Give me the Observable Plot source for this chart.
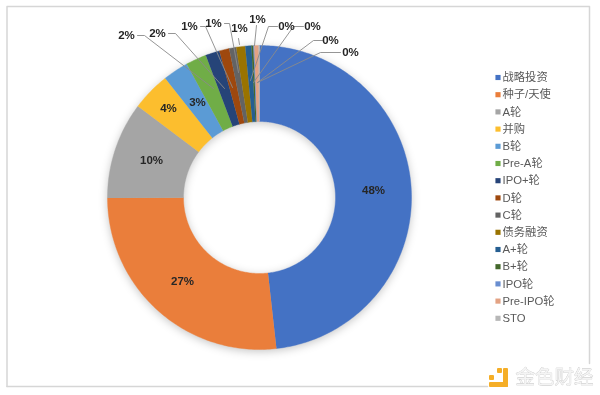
<!DOCTYPE html>
<html><head><meta charset="utf-8">
<script src="https://cdn.jsdelivr.net/npm/d3@7"></script>
<script src="https://cdn.jsdelivr.net/npm/@observablehq/plot@0.6"></script>
<style>html,body{margin:0;padding:0;background:#fff}svg{display:block;filter:blur(0.3px)}</style>
</head><body><div id="chart"></div>
<script>
const categories = ["战略投资","种子/天使","A轮","并购","B轮","Pre-A轮","IPO+轮","D轮","C轮","债务融资","A+轮","B+轮","IPO轮","Pre-IPO轮","STO"];
const shares = [48.2,26.7,10.3,4.1,2.7,2.2,1.5,1.05,0.75,0.95,0.65,0.2,0.1,0.45,0.1];
const valueLabels = ["48%","27%","10%","4%","3%","2%","2%","1%","1%","1%","1%","0%","0%","0%","0%"];
const colors = ["#4472c4","#ea7e3b","#a5a5a5","#fcbe2e","#5b9bd5","#70ad47","#264478","#9e480e","#636363","#997300","#255e91","#43682b","#698ed0","#e3a283","#b7b7b7"];

// layout (page pixels)
const cx = 259, cy = 197, rOuter = 152, rInner = 76;
const labelAt = [[373,190],[182,281],[151,160],[168,108],[197,102],[126,35],[157,33],[189,26],[213,23],[239,28],[257,19],[286,26],[312,26],[330,40],[350,52]];
const leaders = [
  {i:5,p:[[137,35],[144,35],[213,88]]},
  {i:6,p:[[168,33],[175,33],[224,88]]},
  {i:7,p:[[200,26],[205,26],[232,87]]},
  {i:8,p:[[224,23],[229,23],[238,72]]},
  {i:9,p:[[238,38],[239,44]]},
  {i:10,p:[[256,25],[254,45]]},
  {i:11,p:[[277,26],[268,26],[250,80]]},
  {i:12,p:[[303,26],[293,26],[253,82]]},
  {i:13,p:[[322,40],[313,40],[257,82]]},
  {i:14,p:[[340,52],[320,52],[257,82]]}
].flatMap(l => l.p.map(([x,y]) => ({i:l.i,x,y})));

const arcs = d3.pie().sort(null).value(d => d)(shares);
const slices = arcs.flatMap((a,i) => {
  const n = Math.max(2, Math.ceil((a.endAngle-a.startAngle)/0.015));
  const ang = d3.range(n+1).map(k => a.startAngle + (a.endAngle-a.startAngle)*k/n);
  const pt = (t,r) => ({name:categories[i], x:cx+r*Math.sin(t), y:cy-r*Math.cos(t)});
  return [...ang.map(t=>pt(t,rOuter)), ...ang.slice().reverse().map(t=>pt(t,rInner))];
});
const labels = valueLabels.map((text,i)=>({text,x:labelAt[i][0],y:labelAt[i][1]}));
const legend = categories.map((name,i)=>({name,row:i}));
const legendY = d => 77 + d.row*17.2;

const font = '"Liberation Sans","Noto Sans CJK SC",sans-serif';
const frameColor = "#d6d6d6";
const plot = Plot.plot({
  width:600, height:395, margin:0,
  style:{background:"#fff",fontFamily:font},
  x:{domain:[0,600],range:[0,600],axis:null},
  y:{domain:[0,395],range:[0,395],axis:null},
  color:{domain:categories,range:colors},
  marks:[
    Plot.line([[6.5,386],[6.5,6],[589,6],[589,363]].map(([x,y])=>({x,y})),{x:"x",y:"y",stroke:frameColor,strokeWidth:1.5}),
    Plot.line([{x:6.5,y:386},{x:487,y:386}],{x:"x",y:"y",stroke:frameColor,strokeWidth:1.5}),
    Plot.line(slices,{x:"x",y:"y",z:"name",fill:"name",stroke:"name",strokeWidth:0.4,curve:"linear"}),
    Plot.line(leaders,{x:"x",y:"y",z:"i",stroke:"#8a8a8a",strokeWidth:0.9,curve:"linear"}),
    Plot.text(labels,{x:"x",y:"y",text:"text",fontSize:11.5,fontWeight:"bold",fill:"#262626"}),
    Plot.dot(legend,{x:()=>497.5,y:legendY,fill:"name",symbol:"square",r:2.9}),
    Plot.text(legend,{x:()=>502,y:legendY,text:"name",textAnchor:"start",fontSize:11.3,fill:"#595959"}),
    // watermark
    Plot.rect([{x1:503,x2:508,y1:368,y2:387},{x1:489,x2:508,y1:382,y2:387},{x1:497,x2:502,y1:368,y2:373},{x1:489,x2:494,y1:375,y2:380}],{x1:"x1",x2:"x2",y1:"y1",y2:"y2",fill:"#f5ae27",rx:1}),
    Plot.text(["金色财经"],{x:()=>515,y:()=>377,text:d=>d,textAnchor:"start",fontSize:19.5,fill:"#f4f4f4",stroke:"#c4c4c4",strokeWidth:0.6})
  ]
});
const ringGroup = plot.querySelectorAll('g[aria-label="line"]')[2];
ringGroup.style.filter = "drop-shadow(0 2px 4px rgba(0,0,0,.22))";
document.getElementById("chart").append(plot);
</script></body></html>
